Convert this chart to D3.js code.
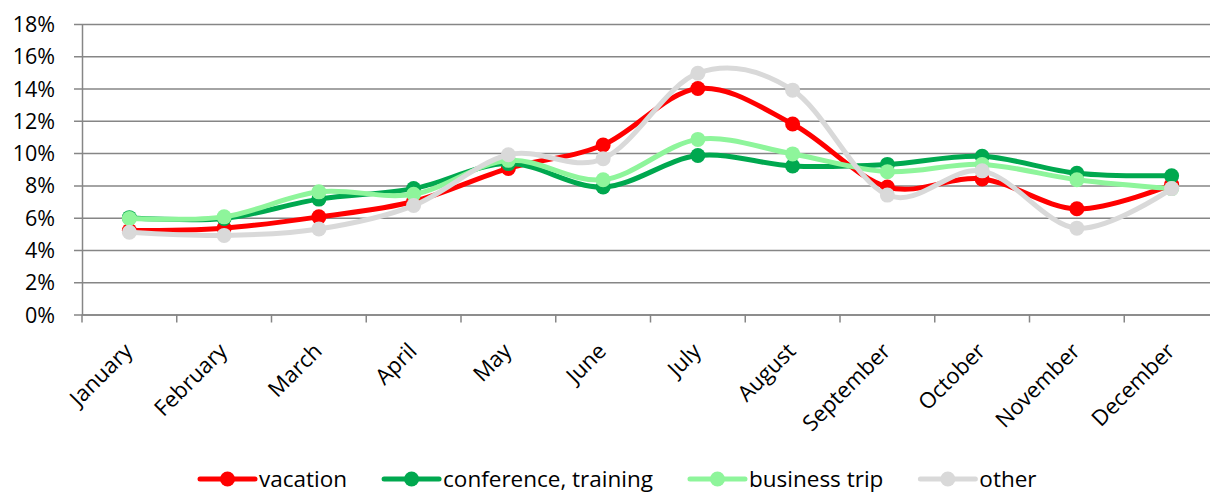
<!DOCTYPE html>
<html>
<head>
<meta charset="utf-8">
<script src="https://cdn.jsdelivr.net/npm/d3@7"></script>
<style>
  body { margin: 0; background: #fff; }
  text { font-family: "Open Sans", "Noto Sans", sans-serif; fill: #000; }
</style>
</head>
<body>
<script>
// data
var months = ["January", "February", "March", "April", "May", "June",
  "July", "August", "September", "October", "November", "December"];
var vacation = [5.2, 5.35, 6.05, 7.0, 9.05, 10.5, 14.0, 11.8, 7.9, 8.4, 6.55, 8.05];
var conference = [6.0, 5.95, 7.15, 7.8, 9.35, 7.9, 9.85, 9.2, 9.3, 9.8, 8.75, 8.6];
var businessTrip = [5.95, 6.05, 7.6, 7.45, 9.55, 8.35, 10.85, 9.95, 8.85, 9.3, 8.35, 7.8];
var other = [5.1, 4.9, 5.3, 6.75, 9.9, 9.65, 14.95, 13.9, 7.4, 8.9, 5.35, 7.8];
var seriesNames = ["vacation", "conference, training", "business trip", "other"];
var yTicks = [0, 2, 4, 6, 8, 10, 12, 14, 16, 18];

var svgWidth = 1210;
var svgHeight = 493;

var colors = ["#ff0000", "#00a84f", "#8ef59b", "#d9d9d9"];
var series = [vacation, conference, businessTrip, other];

var svg = d3.select("body")
  .append("svg")
  .attr("width", svgWidth)
  .attr("height", svgHeight);

// scales (plot area runs a bit past the right edge, as in the original)
var xScale = d3.scaleBand()
  .domain(months)
  .range([82, 1219]);

var yScale = d3.scaleLinear()
  .domain([0, 18])
  .range([314.5, 24]);

// gridlines + y axis
var leftAxis = d3.axisLeft(yScale)
  .tickValues(yTicks)
  .tickSize(-(1219 - 82))
  .tickSizeOuter(0)
  .tickPadding(27)
  .tickFormat(d => d + "%");

var yAxisG = svg.append("g")
  .attr("transform", "translate(82,0)")
  .call(leftAxis);
yAxisG.select(".domain").attr("stroke", "#868686").attr("stroke-width", 1.5);
yAxisG.selectAll(".tick line")
  .attr("stroke", "#868686")
  .attr("stroke-width", 1.5)
  .attr("x1", -8);
yAxisG.selectAll(".tick text")
  .style("font-size", "21.5px")
  .attr("dy", "0.35em");

// x axis
var bottomAxis = d3.axisBottom(xScale)
  .tickSize(0)
  .tickFormat("");

var xAxisG = svg.append("g")
  .attr("transform", "translate(0,314.5)")
  .call(bottomAxis);
xAxisG.select(".domain").attr("stroke", "#868686").attr("stroke-width", 1.5);

// tick marks at band edges
var edges = months.map(m => xScale(m)).concat([xScale.range()[1]]);
xAxisG.selectAll(".edge")
  .data(edges)
  .enter()
  .append("line")
  .attr("x1", d => d)
  .attr("x2", d => d)
  .attr("y1", 0)
  .attr("y2", 8)
  .attr("stroke", "#868686")
  .attr("stroke-width", 1.5);

// month labels
svg.selectAll(".month")
  .data(months)
  .enter()
  .append("text")
  .attr("class", "month")
  .attr("transform", d => `translate(${xScale(d) + xScale.bandwidth() / 2 - 1}, 347) rotate(-45)`)
  .attr("text-anchor", "end")
  .attr("dy", "0.35em")
  .style("font-size", "22px")
  .text(d => d);

// lines
var line = d3.line()
  .x((d, i) => xScale(months[i]) + xScale.bandwidth() / 2)
  .y(d => yScale(d))
  .curve(d3.curveCatmullRom.alpha(0));

series.forEach(function (values, s) {
  svg.append("path")
    .datum(values)
    .attr("d", line)
    .attr("fill", "none")
    .attr("stroke", colors[s])
    .attr("stroke-width", 5)
    .attr("stroke-linecap", "round");

  svg.selectAll(".pt" + s)
    .data(values)
    .enter()
    .append("circle")
    .attr("cx", (d, i) => xScale(months[i]) + xScale.bandwidth() / 2)
    .attr("cy", d => yScale(d))
    .attr("r", 7.5)
    .attr("fill", colors[s]);
});

// legend
var legend = svg.append("g").attr("transform", "translate(200,479)");
var lx = 0;
seriesNames.forEach(function (name, s) {
  var item = legend.append("g").attr("transform", `translate(${lx},0)`);
  item.append("line")
    .attr("x1", 0).attr("x2", 55)
    .attr("y1", 0).attr("y2", 0)
    .attr("stroke", colors[s])
    .attr("stroke-width", 5)
    .attr("stroke-linecap", "round");
  item.append("circle")
    .attr("cx", 27.5).attr("cy", 0).attr("r", 7.5)
    .attr("fill", colors[s]);
  var t = item.append("text")
    .attr("x", 59)
    .attr("dy", "0.35em")
    .style("font-size", "22.5px")
    .text(name);
  lx += 59 + t.node().getComputedTextLength() + 37;
});
</script>
</body>
</html>
